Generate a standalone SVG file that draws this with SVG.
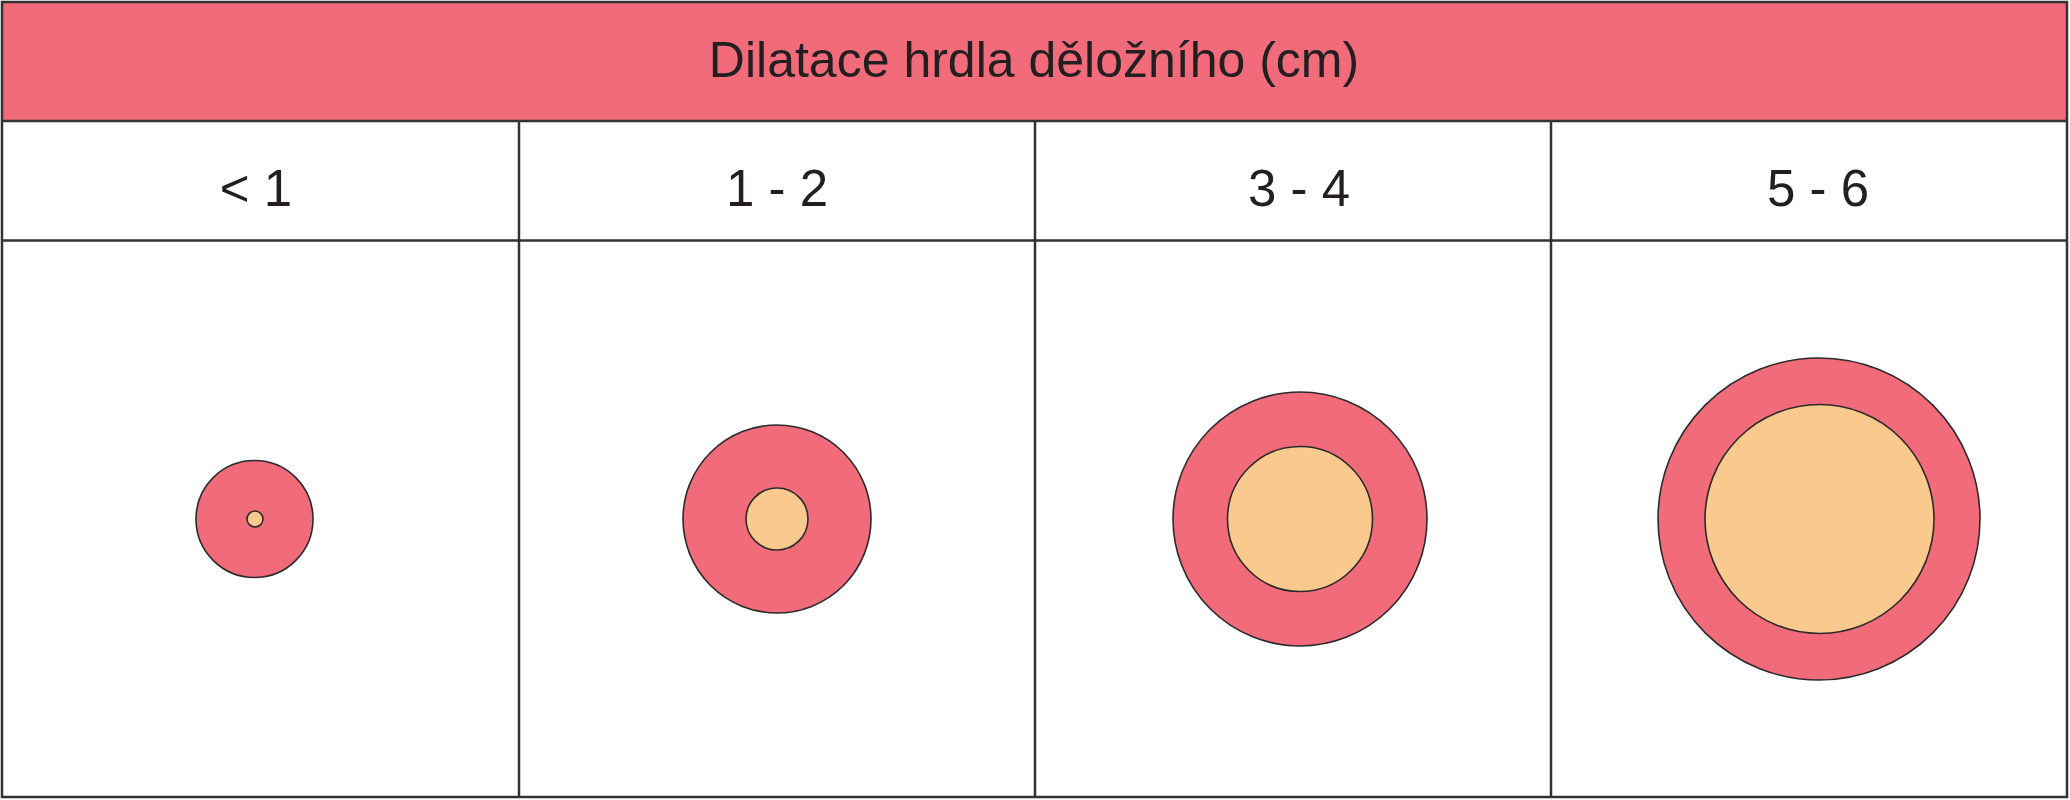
<svg xmlns="http://www.w3.org/2000/svg" width="2070" height="800" viewBox="0 0 2070 800">
<style>
.grid{stroke:#333333;stroke-width:2.5;fill:none}
.title{font-family:"Liberation Sans",Arial,sans-serif;font-size:50px;fill:#231f20;text-anchor:middle}
.lbl{font-family:"Liberation Sans",Arial,sans-serif;font-size:51px;fill:#231f20;text-anchor:middle}
.outer{fill:#F26B7A;stroke:#2b2b2b;stroke-width:1.6}
.inner{fill:#F9C98D;stroke:#2b2b2b;stroke-width:1.6}
</style>
<rect x="0" y="0" width="2070" height="800" fill="#ffffff"/>
<g id="header">
<rect x="2" y="2" width="2065" height="119" fill="#F26B7A"/>
<text class="title" x="1034" y="77">Dilatace hrdla děložního (cm)</text>
</g>
<g id="grid" class="grid">
<rect x="2" y="2" width="2065" height="795"/>
<line x1="2" y1="121" x2="2067" y2="121"/>
<line x1="2" y1="240.5" x2="2067" y2="240.5"/>
<line x1="519" y1="121" x2="519" y2="797"/>
<line x1="1035" y1="121" x2="1035" y2="797"/>
<line x1="1551" y1="121" x2="1551" y2="797"/>
</g>
<g id="col1">
<text class="lbl" x="256" y="206">&lt; 1</text>
<circle class="outer" cx="254.5" cy="519" r="58.5"/>
<circle class="inner" cx="255" cy="519" r="8"/>
</g>
<g id="col2">
<text class="lbl" x="777" y="206">1 - 2</text>
<circle class="outer" cx="777" cy="519" r="94"/>
<circle class="inner" cx="777" cy="519" r="31"/>
</g>
<g id="col3">
<text class="lbl" x="1299" y="206">3 - 4</text>
<circle class="outer" cx="1300" cy="519" r="127"/>
<circle class="inner" cx="1300" cy="519" r="72.5"/>
</g>
<g id="col4">
<text class="lbl" x="1818" y="206">5 - 6</text>
<circle class="outer" cx="1819" cy="519" r="161"/>
<circle class="inner" cx="1819.5" cy="519" r="114.5"/>
</g>
</svg>
